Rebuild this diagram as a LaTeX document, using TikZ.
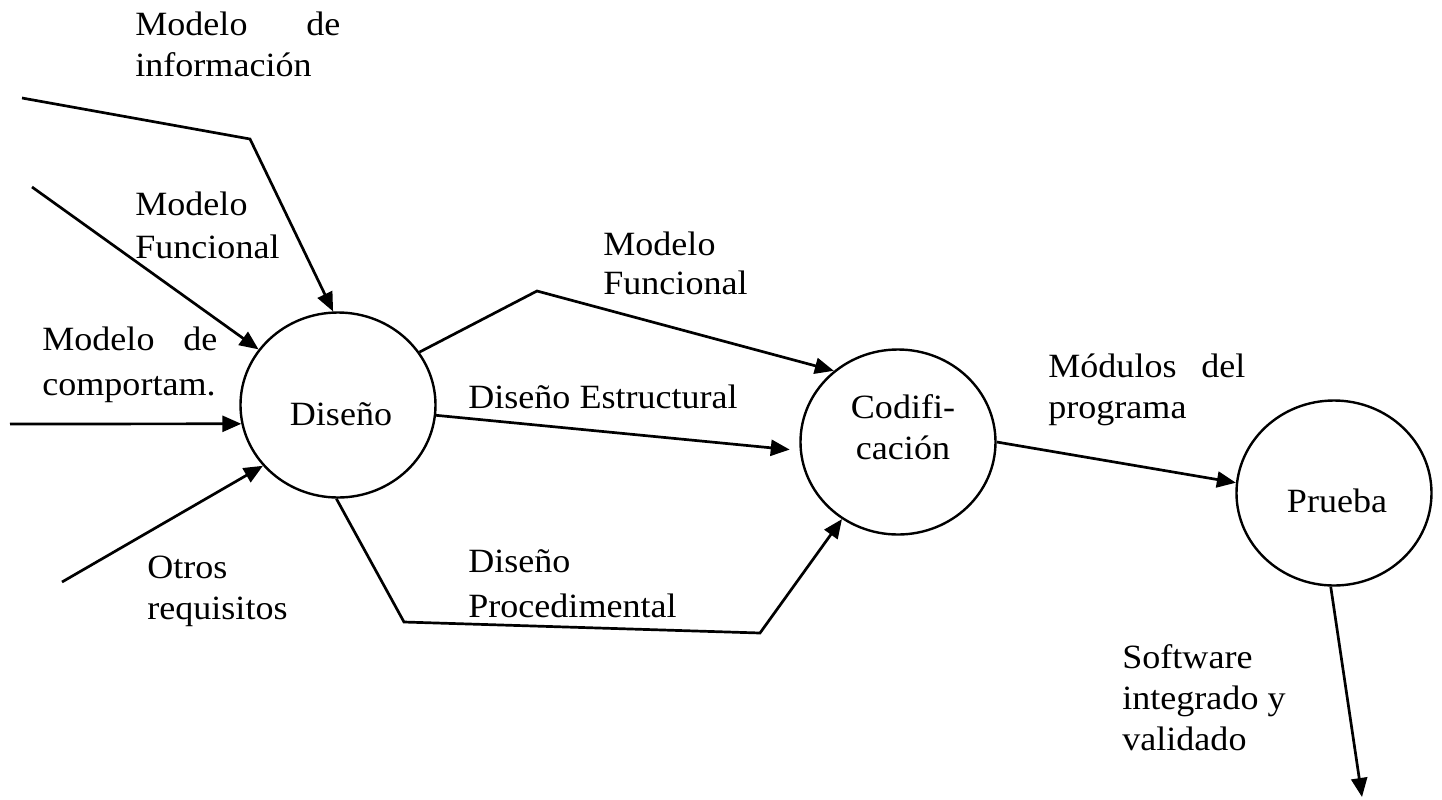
\documentclass[tikz,border=0pt]{standalone}
\usepackage{fontspec}
\setmainfont{Liberation Serif}[FakeStretch=1.06]
\usetikzlibrary{shapes.geometric,arrows.meta}
% stacked label lines, first baseline on the node's base
\newcommand\stk[1]{\begin{tabular}[t]{@{}l@{}}#1\end{tabular}}
\newcommand\ctk[1]{\begin{tabular}[t]{@{}c@{}}#1\end{tabular}}

\begin{document}
\begin{tikzpicture}[x=0.5pt,y=-0.5pt,
  every node/.style={font=\fontsize{17pt}{20.5pt}\selectfont},
  proc/.style={draw, ellipse, line width=1.2pt, minimum width=97.5pt, minimum height=92.5pt, inner sep=0pt},
  lbl/.style={anchor=base west, inner sep=0pt},
  ttl/.style={anchor=base, inner sep=0pt},
  flow/.style={line width=1.35pt, -{Triangle[length=9.5pt,width=8pt]}, line join=miter}
]
\useasboundingbox (0,0) rectangle (1442,799);

% process bubbles
\node[proc] (dis) at (338,405) {};
\node[proc] (cod) at (898,442) {};
\node[proc] (pr)  at (1334,493) {};

\node[ttl] (tdis) at (341,425) {Diseño};
\node[ttl] (tcod) at (903,418) {\ctk{Codifi-\\cación}};
\node[ttl] (tpr)  at (1337,512) {Prueba};

% flow labels
\node[lbl] (linfo)  at (135,35)  {\stk{\hbox to 102.5pt{Modelo\hfill de}\\información}};
\node[lbl] (lfun1)  at (135,215) {\stk{Modelo\\[1pt]Funcional}};
\node[lbl] (lcomp)  at (42,350)  {\stk{\hbox to 87.5pt{Modelo\hfill de}\\[2pt]comportam.}};
\node[lbl] (lotros) at (147,578) {\stk{Otros\\requisitos}};
\node[lbl] (lfun2)  at (603,255) {\stk{Modelo\\[-1pt]Funcional}};
\node[lbl] (lest)   at (468,408) {Diseño Estructural};
\node[lbl] (lproc)  at (468,572) {\stk{Diseño\\[2pt]Procedimental}};
\node[lbl] (lmod)   at (1048,377) {\stk{\hbox to 98.5pt{Módulos\hfill del}\\programa}};
\node[lbl] (lsoft)  at (1122,668) {\stk{Software\\integrado y\\validado}};

% inputs to Diseño
\coordinate (a1) at (22,98);
\coordinate (b1) at (250,139);
\draw[flow] (a1) -- (b1) -- (dis.93);
\coordinate (a2) at (32,187);
\draw[flow] (a2) -- (dis.145);
\coordinate (a3) at (10,424);
\draw[flow] (a3) -- (dis.191);
\coordinate (a4) at (62,582);
\draw[flow] (a4) -- (dis.219);

% Diseño to Codificación
\coordinate (b5) at (537,291);
\draw[flow] (dis.33) -- (b5) -- (cod.132);
\draw[flow, shorten >=5pt] (dis.-6) -- (cod.185);
\coordinate (b7) at (404,622);
\coordinate (c7) at (760,633);
\draw[flow] (dis.269) -- (b7) -- (c7) -- (cod.234);

% Codificación to Prueba, and output
\draw[flow] (cod.0) -- (pr.174);
\coordinate (e9) at (1362,797);
\draw[flow] (pr.268) -- (e9);
\end{tikzpicture}
\end{document}
